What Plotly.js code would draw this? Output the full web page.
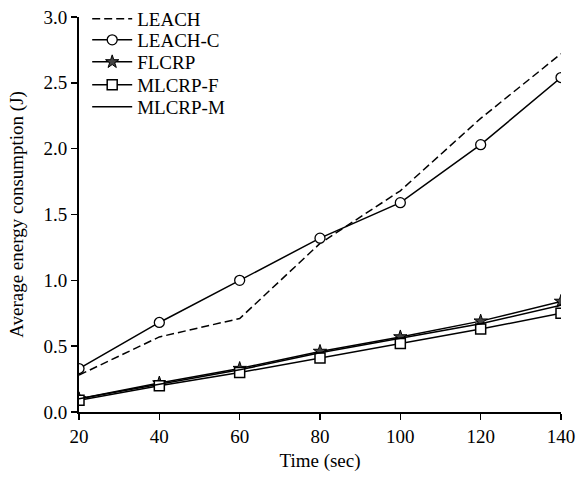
<!DOCTYPE html>
<html><head><meta charset="utf-8">
<script src="https://cdn.plot.ly/plotly-3.0.1.min.js"></script>
<style>html,body{margin:0;padding:0;background:#fff}</style>
</head><body><div id="chart" style="width:585px;height:477px"></div>
<script>
const time = [20, 40, 60, 80, 100, 120, 140];
const leach = [0.28, 0.57, 0.71, 1.28, 1.68, 2.23, 2.72];
const leachC = [0.33, 0.68, 1.00, 1.32, 1.59, 2.03, 2.54];
const flcrp = [0.10, 0.22, 0.33, 0.46, 0.57, 0.69, 0.84];
const mlcrpF = [0.09, 0.20, 0.30, 0.41, 0.52, 0.63, 0.75];
const mlcrpM = [0.10, 0.21, 0.32, 0.45, 0.56, 0.67, 0.81];
const yTicks = [0, 0.5, 1.0, 1.5, 2.0, 2.5, 3.0];
const xTicks = [20, 40, 60, 80, 100, 120, 140];

const black = '#000';
const traces = [
  {x: time, y: leach, name: 'LEACH', legend: 'legend', mode: 'lines', line: {color: black, width: 1.5, dash: '8px,4px'}},
  {x: time, y: leachC, name: 'LEACH-C', legend: 'legend2', mode: 'lines+markers', line: {color: black, width: 1.5},
   marker: {symbol: 'circle', size: 10, color: '#fff', line: {color: black, width: 1.3}}},
  {x: time, y: flcrp, name: 'FLCRP', legend: 'legend3', mode: 'lines+markers', line: {color: black, width: 1.5},
   marker: {symbol: 'star', size: 10, color: '#444', line: {color: black, width: 1}}},
  {x: time, y: mlcrpF, name: 'MLCRP-F', legend: 'legend4', mode: 'lines+markers', line: {color: black, width: 1.5},
   marker: {symbol: 'square', size: 10, color: '#fff', line: {color: black, width: 1.5}}},
  {x: time, y: mlcrpM, name: 'MLCRP-M', legend: 'legend5', mode: 'lines', line: {color: black, width: 1.5}}
];
const fam = '"Liberation Serif", "Times New Roman", serif';
const font = {family: fam, color: black, size: 19};
const rowCenters = [18, 40, 62, 85, 107];
function legendAt(i) {
  return {x: 0.017, y: 1 - rowCenters[i] / 412, xanchor: 'left', yanchor: 'middle', bgcolor: 'rgba(0,0,0,0)',
          font: {family: fam, size: 19, color: black}, itemwidth: 40};
}
const layout = {
  width: 585, height: 477,
  margin: {l: 79, r: 24, t: 0, b: 65},
  paper_bgcolor: '#fff', plot_bgcolor: '#fff',
  font: font,
  showlegend: true,
  legend: legendAt(0), legend2: legendAt(1), legend3: legendAt(2), legend4: legendAt(3), legend5: legendAt(4),
  xaxis: {range: [20, 140], tickvals: xTicks, ticktext: xTicks.map(String), ticks: 'outside', ticklen: 6,
          tickwidth: 1.5, tickcolor: black, showline: true, linecolor: black, linewidth: 2,
          tickfont: {family: fam, size: 19},
          showgrid: false, zeroline: false, title: {text: 'Time (sec)', font: {family: fam, size: 19}, standoff: 8}},
  yaxis: {domain: [0, 396 / 412], range: [0, 3.0], tickvals: yTicks, ticktext: yTicks.map(v => v.toFixed(1)), ticks: 'outside', ticklen: 6,
          tickwidth: 1.5, tickcolor: black, showline: true, linecolor: black, linewidth: 2,
          tickfont: {family: fam, size: 19},
          showgrid: false, zeroline: false, title: {text: 'Average energy consumption (J)', font: {family: fam, size: 19}, standoff: 15}}
};
Plotly.newPlot('chart', traces, layout, {displayModeBar: false, staticPlot: true});
</script></body></html>
